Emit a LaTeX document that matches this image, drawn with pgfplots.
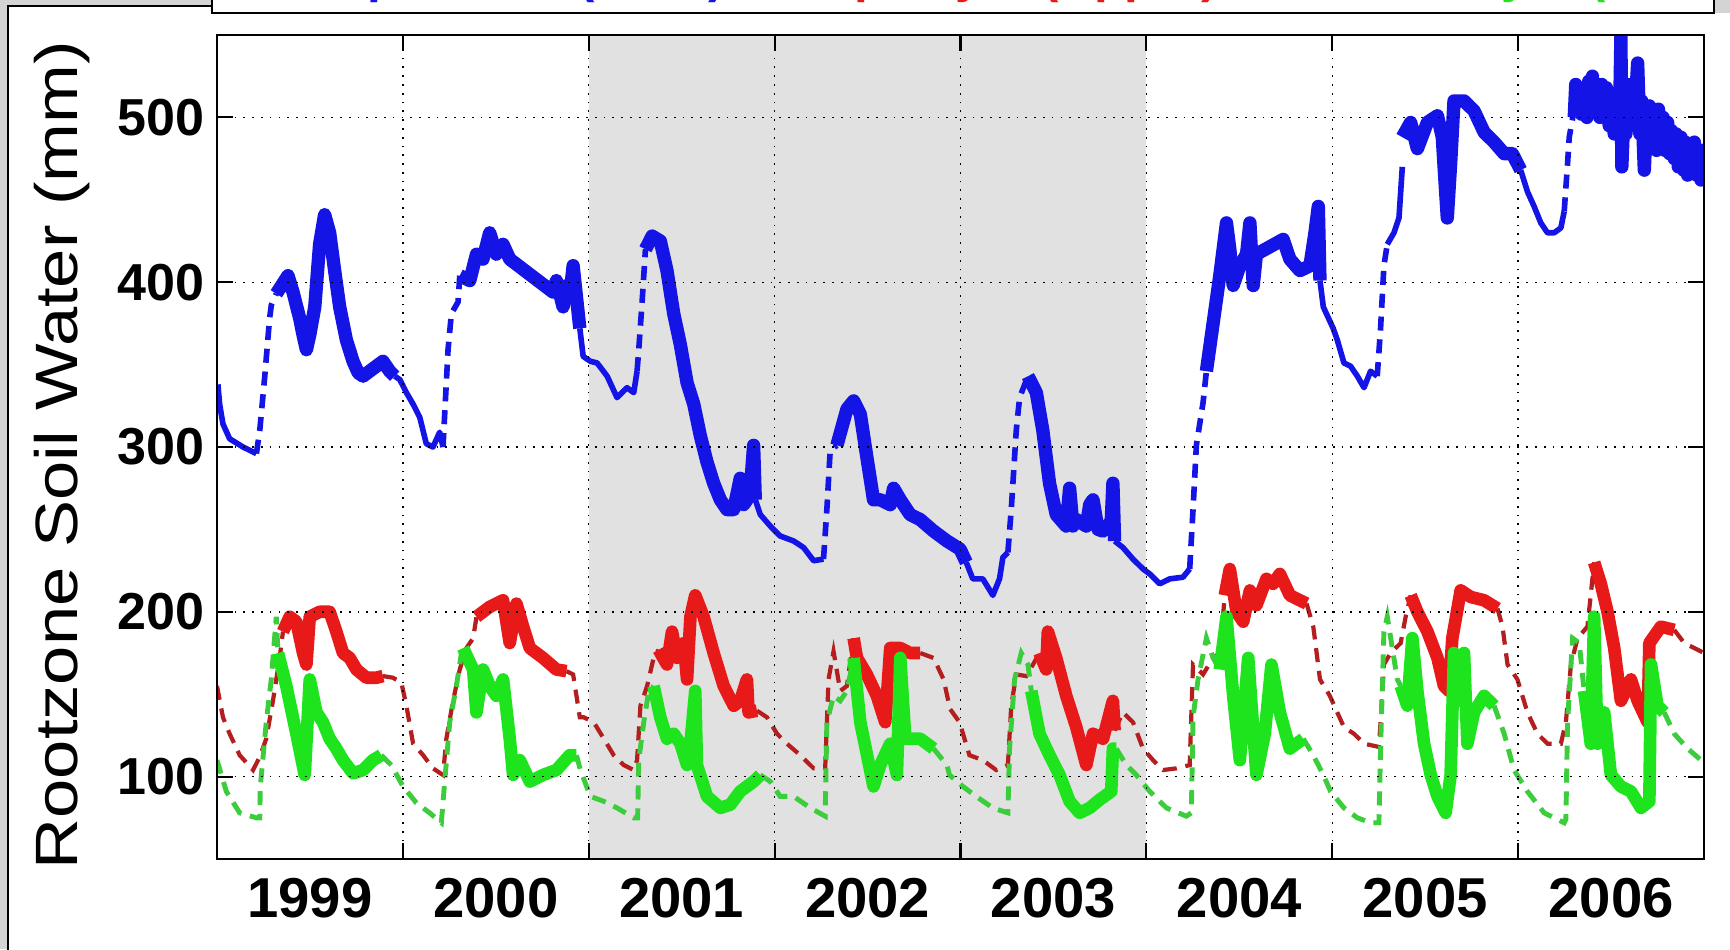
\documentclass[border=0pt]{standalone}
\usepackage{fontspec}
\setmainfont{Liberation Sans}
\usepackage{graphicx}
\usepackage{pgfplots}
\pgfplotsset{compat=1.18}
\definecolor{myblue}{RGB}{20,20,230}
\definecolor{myred}{RGB}{232,25,25}
\definecolor{mydred}{RGB}{180,30,30}
\definecolor{mygreen}{RGB}{30,228,30}
\definecolor{mydgreen}{RGB}{60,205,60}
\definecolor{shade}{RGB}{225,225,225}
\definecolor{bggray}{RGB}{212,212,212}
\begin{document}
\begin{tikzpicture}
\fill[bggray] (-21.7mm,-9mm) rectangle (151.3mm,85.9mm);
\fill[white] (-20.9mm,-9mm) rectangle (151.3mm,85.33mm);
\begin{axis}[
  at={(0,0)}, anchor=south west,
  scale only axis, width=148.7mm, height=82.4mm,
  xmin=0, xmax=8, ymin=50, ymax=550,
  axis on top,
  axis line style={line width=0.8pt},
  xtick={0,...,8}, xticklabels={},
  extra x ticks={0.5,1.5,2.5,3.5,4.5,5.5,6.5,7.5},
  extra x tick labels={1999,2000,2001,2002,2003,2004,2005,2006},
  extra x tick style={major tick length=0pt, grid=none},
  ytick={100,200,300,400,500},
  xmajorgrids, ymajorgrids,
  grid style={black, line width=0.4pt, dash pattern=on 0.5pt off 2pt},
  major tick length=1.6mm,
  tick style={black, line width=0.6pt},
  /pgf/number format/assume math mode=true,
  yticklabel style={font=\fontsize{14.8}{15}\selectfont\bfseries, inner sep=0pt, xshift=-1.2mm},
  xticklabel style={font=\fontsize{16}{16}\selectfont\bfseries, inner sep=0pt, yshift=-1.9mm},
  ylabel={\scalebox{1.18}[1]{Rootzone Soil Water (mm)}},
  ylabel style={at={(rel axis cs:-0.0935,0.49)}, anchor=base, font=\fontsize{17}{17}\selectfont},
  unbounded coords=jump,
]
% shaded years 2001-2003
\addplot[fill=shade, draw=none] coordinates {(2,550) (5,550)} \closedcycle;

% ---------------- BLUE ----------------
\addplot[myblue, line width=1.6pt, dash pattern=on 4pt off 2.5pt] coordinates {
(0.212,296)(0.230,310)(0.257,343)(0.283,378)(0.292,386)(0.319,393)
(0.32,nan)
(1.216,300)(1.225,320)(1.243,359)(1.261,381)(1.297,388)(1.306,404)
(1.31,nan)
(2.260,346)(2.269,359)(2.287,388)(2.305,420)
(2.31,nan)
(3.263,232)(3.281,262)(3.299,298)(3.335,301)
(3.34,nan)
(4.255,236)(4.273,262)(4.300,310)(4.318,330)(4.363,343)
(4.37,nan)
(5.233,226)(5.251,262)(5.269,301)(5.305,327)(5.323,346)
(5.33,nan)
(6.242,343)(6.260,372)(6.278,410)(6.296,423)
(6.30,nan)
(7.248,443)(7.266,472)(7.275,488)(7.302,505)
};
\addplot[myblue, line width=1.6pt, line join=round] coordinates {
(0.005,338)(0.014,326)(0.032,314)(0.068,305)(0.140,300)(0.212,296)
(0.22,nan)
(0.956,343)(0.983,341)(1.019,333)(1.055,326)(1.091,318)(1.126,302)(1.162,300)(1.198,309)(1.216,300)
(1.22,nan)
(1.952,372)(1.970,355)(2.009,352)(2.045,351)(2.099,343)(2.152,330)(2.206,336)(2.242,333)(2.260,346)
(2.27,nan)
(2.896,268)(2.923,259)(2.977,252)(3.030,246)(3.102,243)(3.156,239)(3.210,231)(3.263,232)
(3.27,nan)
(4.031,230)(4.066,220)(4.120,220)(4.174,210)(4.210,220)(4.228,233)(4.255,236)
(4.26,nan)
(4.829,243)(4.874,239)(4.928,232)(4.982,226)(5.018,223)(5.072,217)(5.126,220)(5.197,221)(5.233,226)
(5.24,nan)
(5.934,401)(5.952,385)(6.005,372)(6.027,365)(6.063,351)(6.099,349)(6.135,343)(6.171,336)(6.206,346)(6.242,343)
(6.25,nan)
(6.296,423)(6.332,430)(6.359,439)(6.377,470)
(6.38,nan)
(7.014,468)(7.050,455)(7.086,446)(7.122,436)(7.158,430)(7.194,430)(7.230,433)(7.248,443)
};
\addplot[myblue, line width=3.8pt, line join=round] coordinates {
(0.319,393)(0.382,404)(0.409,394)(0.445,378)(0.463,368)(0.481,359)(0.499,368)(0.526,385)(0.552,423)(0.579,441)(0.606,430)(0.633,407)(0.660,385)(0.696,365)(0.732,352)(0.760,345)(0.786,343)(0.821,346)(0.857,349)(0.893,352)(0.929,346)(0.956,343)
(0.96,nan)
(1.306,404)(1.360,401)(1.396,417)(1.431,414)(1.467,430)(1.503,417)(1.539,423)(1.575,414)(1.808,394)(1.826,401)(1.862,385)(1.880,398)(1.898,391)(1.916,410)(1.934,391)(1.952,372)
(1.96,nan)
(2.305,420)(2.341,428)(2.385,425)(2.421,407)(2.457,381)(2.493,362)(2.529,339)(2.565,326)(2.600,307)(2.636,291)(2.672,278)(2.708,268)(2.744,262)(2.780,262)(2.815,281)(2.833,265)(2.851,268)(2.870,275)(2.887,301)(2.896,268)
(2.90,nan)
(3.335,301)(3.389,323)(3.425,328)(3.461,320)(3.496,294)(3.532,268)(3.568,268)(3.622,265)(3.640,275)(3.676,268)(3.729,259)(3.783,256)(3.855,249)(3.927,243)(3.998,238)(4.031,230)
(4.04,nan)
(4.363,343)(4.408,333)(4.443,310)(4.479,278)(4.515,259)(4.569,252)(4.587,275)(4.605,252)(4.623,256)(4.677,252)(4.695,265)(4.713,268)(4.740,250)(4.767,249)(4.811,255)(4.820,278)(4.829,243)
(4.83,nan)
(5.323,346)(5.359,375)(5.395,404)(5.431,436)(5.449,420)(5.467,398)(5.503,410)(5.539,417)(5.557,436)(5.575,398)(5.592,417)(5.736,426)(5.772,414)(5.826,407)(5.880,410)(5.907,430)(5.925,446)(5.934,401)
(5.94,nan)
(6.377,488)(6.422,497)(6.458,481)(6.512,497)(6.566,501)(6.592,488)(6.610,455)(6.619,439)(6.637,472)(6.655,510)(6.709,510)(6.763,504)(6.817,491)(6.871,485)(6.925,478)(6.969,478)(7.014,468)
(7.02,nan)
(7.302,500)(7.310,520)(7.320,505)(7.330,518)(7.340,502)(7.355,516)(7.370,500)(7.380,522)(7.391,508)(7.400,525)(7.410,505)(7.427,512)(7.440,500)(7.450,520)(7.463,505)(7.475,518)(7.490,495)(7.500,510)(7.517,490)(7.530,505)(7.545,495)(7.553,549)(7.558,470)(7.570,505)(7.580,490)(7.589,520)(7.600,498)(7.615,515)(7.625,495)(7.643,533)(7.655,490)(7.665,510)(7.679,468)(7.690,500)(7.706,507)(7.715,485)(7.732,500)(7.745,480)(7.755,505)(7.768,485)(7.780,500)(7.790,480)(7.804,497)(7.815,478)(7.825,492)(7.840,475)(7.850,490)(7.862,470)(7.876,488)(7.890,468)(7.900,485)(7.912,465)(7.925,480)(7.935,470)(7.948,485)(7.960,465)(7.972,478)(7.984,462)(7.993,480)(8.000,470)
};

% ---------------- RED ----------------
\addplot[mydred, line width=1.2pt, dash pattern=on 4pt off 2.5pt] coordinates {
(0.000,155)(0.032,136)(0.068,126)(0.122,113)(0.194,104)(0.230,112)(0.265,123)(0.301,146)(0.337,172)(0.355,188)
(0.36,nan)
(0.893,161)(0.947,160)(0.992,157)(1.019,143)(1.055,120)(1.109,113)(1.162,105)(1.216,101)(1.234,123)(1.270,146)(1.306,165)(1.342,178)(1.378,184)(1.396,197)
(1.40,nan)
(1.880,164)(1.916,162)(1.952,136)(1.973,136)(2.027,133)(2.081,123)(2.134,113)(2.188,107)(2.242,104)(2.260,110)(2.278,143)(2.314,155)(2.349,172)(2.376,177)
(2.38,nan)
(2.905,140)(2.959,136)(3.013,126)(3.066,120)(3.138,113)(3.210,105)(3.272,105)(3.290,159)(3.317,176)(3.353,152)(3.389,155)(3.425,184)
(3.43,nan)
(3.783,175)(3.855,172)(3.909,159)(3.944,141)(3.995,133)(4.048,113)(4.120,110)(4.192,104)(4.255,107)(4.273,143)(4.300,162)(4.354,161)(4.390,168)(4.425,175)
(4.43,nan)
(4.829,128)(4.874,139)(4.928,133)(4.982,117)(5.036,110)(5.090,104)(5.162,105)(5.233,107)(5.251,168)(5.305,162)(5.359,172)(5.395,175)(5.422,210)
(5.43,nan)
(5.862,205)(5.898,191)(5.934,159)(5.987,149)(6.027,139)(6.063,130)(6.117,126)(6.171,120)(6.251,118)(6.260,133)(6.278,168)(6.314,175)(6.368,181)(6.395,197)(6.422,210)
(6.43,nan)
(6.889,202)(6.916,191)(6.943,168)(6.996,159)(7.050,139)(7.104,126)(7.158,120)(7.230,120)(7.257,133)(7.284,168)(7.320,184)(7.373,191)(7.409,230)
(7.41,nan)
(7.840,189)(7.894,181)(7.948,178)(8.000,175)
};
\addplot[myred, line width=3.6pt, line join=round] coordinates {
(0.355,188)(0.391,197)(0.427,194)(0.463,175)(0.481,168)(0.499,197)(0.552,200)(0.606,200)(0.642,188)(0.678,175)(0.714,172)(0.750,165)(0.804,160)(0.857,160)(0.893,161)
(0.90,nan)
(1.396,197)(1.467,203)(1.539,207)(1.575,181)(1.611,205)(1.647,191)(1.683,178)(1.754,172)(1.826,165)(1.880,164)
(1.89,nan)
(2.376,177)(2.421,168)(2.448,188)(2.475,172)(2.511,181)(2.529,159)(2.547,197)(2.573,210)(2.618,197)(2.672,175)(2.726,155)(2.780,143)(2.815,146)(2.851,159)(2.860,139)(2.905,140)
(2.91,nan)
(3.425,184)(3.443,172)(3.496,162)(3.550,149)(3.595,133)(3.622,178)(3.676,178)(3.729,175)(3.783,175)
(3.79,nan)
(4.425,175)(4.461,165)(4.470,188)(4.515,172)(4.569,149)(4.623,130)(4.677,107)(4.713,126)(4.767,123)(4.820,146)(4.829,128)
(4.83,nan)
(5.422,210)(5.449,226)(5.485,200)(5.521,194)(5.557,213)(5.592,204)(5.646,220)(5.682,217)(5.718,223)(5.772,210)(5.826,207)(5.862,205)
(5.87,nan)
(6.422,210)(6.458,200)(6.512,188)(6.566,172)(6.601,155)(6.628,152)(6.646,184)(6.691,213)(6.745,209)(6.817,207)(6.889,202)
(6.89,nan)
(7.409,230)(7.445,217)(7.481,200)(7.517,178)(7.553,146)(7.607,159)(7.643,146)(7.697,133)(7.706,181)(7.768,191)(7.840,189)
};

% ---------------- GREEN ----------------
\addplot[mydgreen, line width=1.4pt, dash pattern=on 4pt off 2.5pt] coordinates {
(0.000,110)(0.050,91)(0.122,78)(0.212,75)(0.230,75)(0.233,94)(0.265,133)(0.292,159)(0.319,197)(0.328,175)
(0.33,nan)
(0.884,113)(0.938,107)(1.001,94)(1.073,84)(1.144,78)(1.207,72)(1.225,97)(1.252,133)(1.288,155)(1.315,175)(1.324,178)
(1.33,nan)
(1.934,113)(1.955,104)(2.009,88)(2.081,85)(2.152,81)(2.242,75)(2.263,75)(2.269,110)(2.296,133)(2.323,152)(2.349,155)
(2.35,nan)
(2.923,101)(2.977,97)(3.030,88)(3.102,88)(3.192,81)(3.272,76)(3.281,133)(3.317,149)(3.353,146)(3.389,152)(3.425,172)
(3.43,nan)
(3.855,117)(3.927,107)(3.941,101)(4.013,94)(4.084,88)(4.174,81)(4.255,78)(4.264,117)(4.291,159)(4.327,175)(4.363,168)(4.381,152)
(4.39,nan)
(4.838,117)(4.892,107)(4.946,101)(5.018,91)(5.108,81)(5.215,76)(5.242,78)(5.251,136)(5.278,159)(5.323,184)(5.359,172)(5.395,165)
(5.40,nan)
(5.844,123)(5.898,113)(5.952,101)(5.991,91)(6.063,81)(6.135,75)(6.206,72)(6.251,72)(6.260,117)(6.278,188)(6.296,197)(6.323,178)(6.350,159)(6.368,155)
(6.37,nan)
(6.871,143)(6.925,126)(6.978,104)(7.050,91)(7.140,78)(7.248,72)(7.257,74)(7.266,133)(7.293,184)(7.329,181)(7.355,152)
(7.36,nan)
(7.786,139)(7.840,126)(7.912,117)(7.984,110)(8.000,107)
};
\addplot[mygreen, line width=3.6pt, line join=round] coordinates {
(0.328,175)(0.373,155)(0.427,126)(0.472,101)(0.499,159)(0.535,139)(0.570,133)(0.606,123)(0.642,117)(0.678,110)(0.732,102)(0.786,104)(0.839,110)(0.884,113)
(0.89,nan)
(1.324,178)(1.378,165)(1.396,139)(1.431,165)(1.467,155)(1.503,149)(1.539,159)(1.575,123)(1.593,101)(1.629,110)(1.683,97)(1.754,101)(1.826,104)(1.898,113)(1.934,113)
(1.94,nan)
(2.349,155)(2.385,136)(2.421,123)(2.457,126)(2.493,120)(2.529,107)(2.547,120)(2.573,152)(2.582,107)(2.636,88)(2.708,81)(2.762,83)(2.815,91)(2.887,97)(2.923,101)
(2.93,nan)
(3.425,172)(3.461,133)(3.532,94)(3.568,107)(3.622,120)(3.658,101)(3.676,172)(3.703,123)(3.783,123)(3.855,117)
(3.86,nan)
(4.381,152)(4.425,126)(4.479,113)(4.533,101)(4.587,85)(4.641,78)(4.695,81)(4.749,86)(4.811,91)(4.820,117)(4.838,117)
(4.84,nan)
(5.395,165)(5.431,197)(5.467,149)(5.503,110)(5.548,172)(5.592,101)(5.637,126)(5.673,168)(5.718,139)(5.772,117)(5.844,123)
(5.85,nan)
(6.368,155)(6.404,143)(6.431,184)(6.458,152)(6.494,120)(6.530,101)(6.566,88)(6.610,78)(6.637,101)(6.655,175)(6.691,146)(6.709,175)(6.727,120)(6.763,139)(6.817,149)(6.871,143)
(6.88,nan)
(7.355,152)(7.391,120)(7.409,197)(7.427,120)(7.463,139)(7.499,101)(7.553,94)(7.607,91)(7.661,81)(7.706,85)(7.715,168)(7.750,143)(7.786,139)
};
\end{axis}
% legend box (cut off at the top of the screenshot)
\fill[bggray] (149.7mm,84.63mm) rectangle (152mm,95mm);
\draw[fill=white, line width=0.6pt] (-0.5mm,84.63mm) rectangle (149.7mm,95mm);
\node[anchor=base west, text=myblue, font=\fontsize{14}{14}\selectfont\bfseries, inner sep=0pt] at (6mm,86.6mm) {Deep Profile (Total)};
\node[anchor=base west, text=myred, font=\fontsize{14}{14}\selectfont\bfseries, inner sep=0pt] at (58mm,86.6mm) {Top Layer (Upper)};
\node[anchor=base west, text=mygreen, font=\fontsize{14}{14}\selectfont\bfseries, inner sep=0pt] at (112mm,86.6mm) {Sub Layer (Lower)};
% figure frame
\draw[line width=0.6pt] (-20.9mm,-10mm) -- (-20.9mm,85.33mm) -- (-0.5mm,85.33mm);
\pgfresetboundingbox
\useasboundingbox (-21.7mm,-9mm) rectangle (151.3mm,85.9mm);
\end{tikzpicture}
\end{document}
